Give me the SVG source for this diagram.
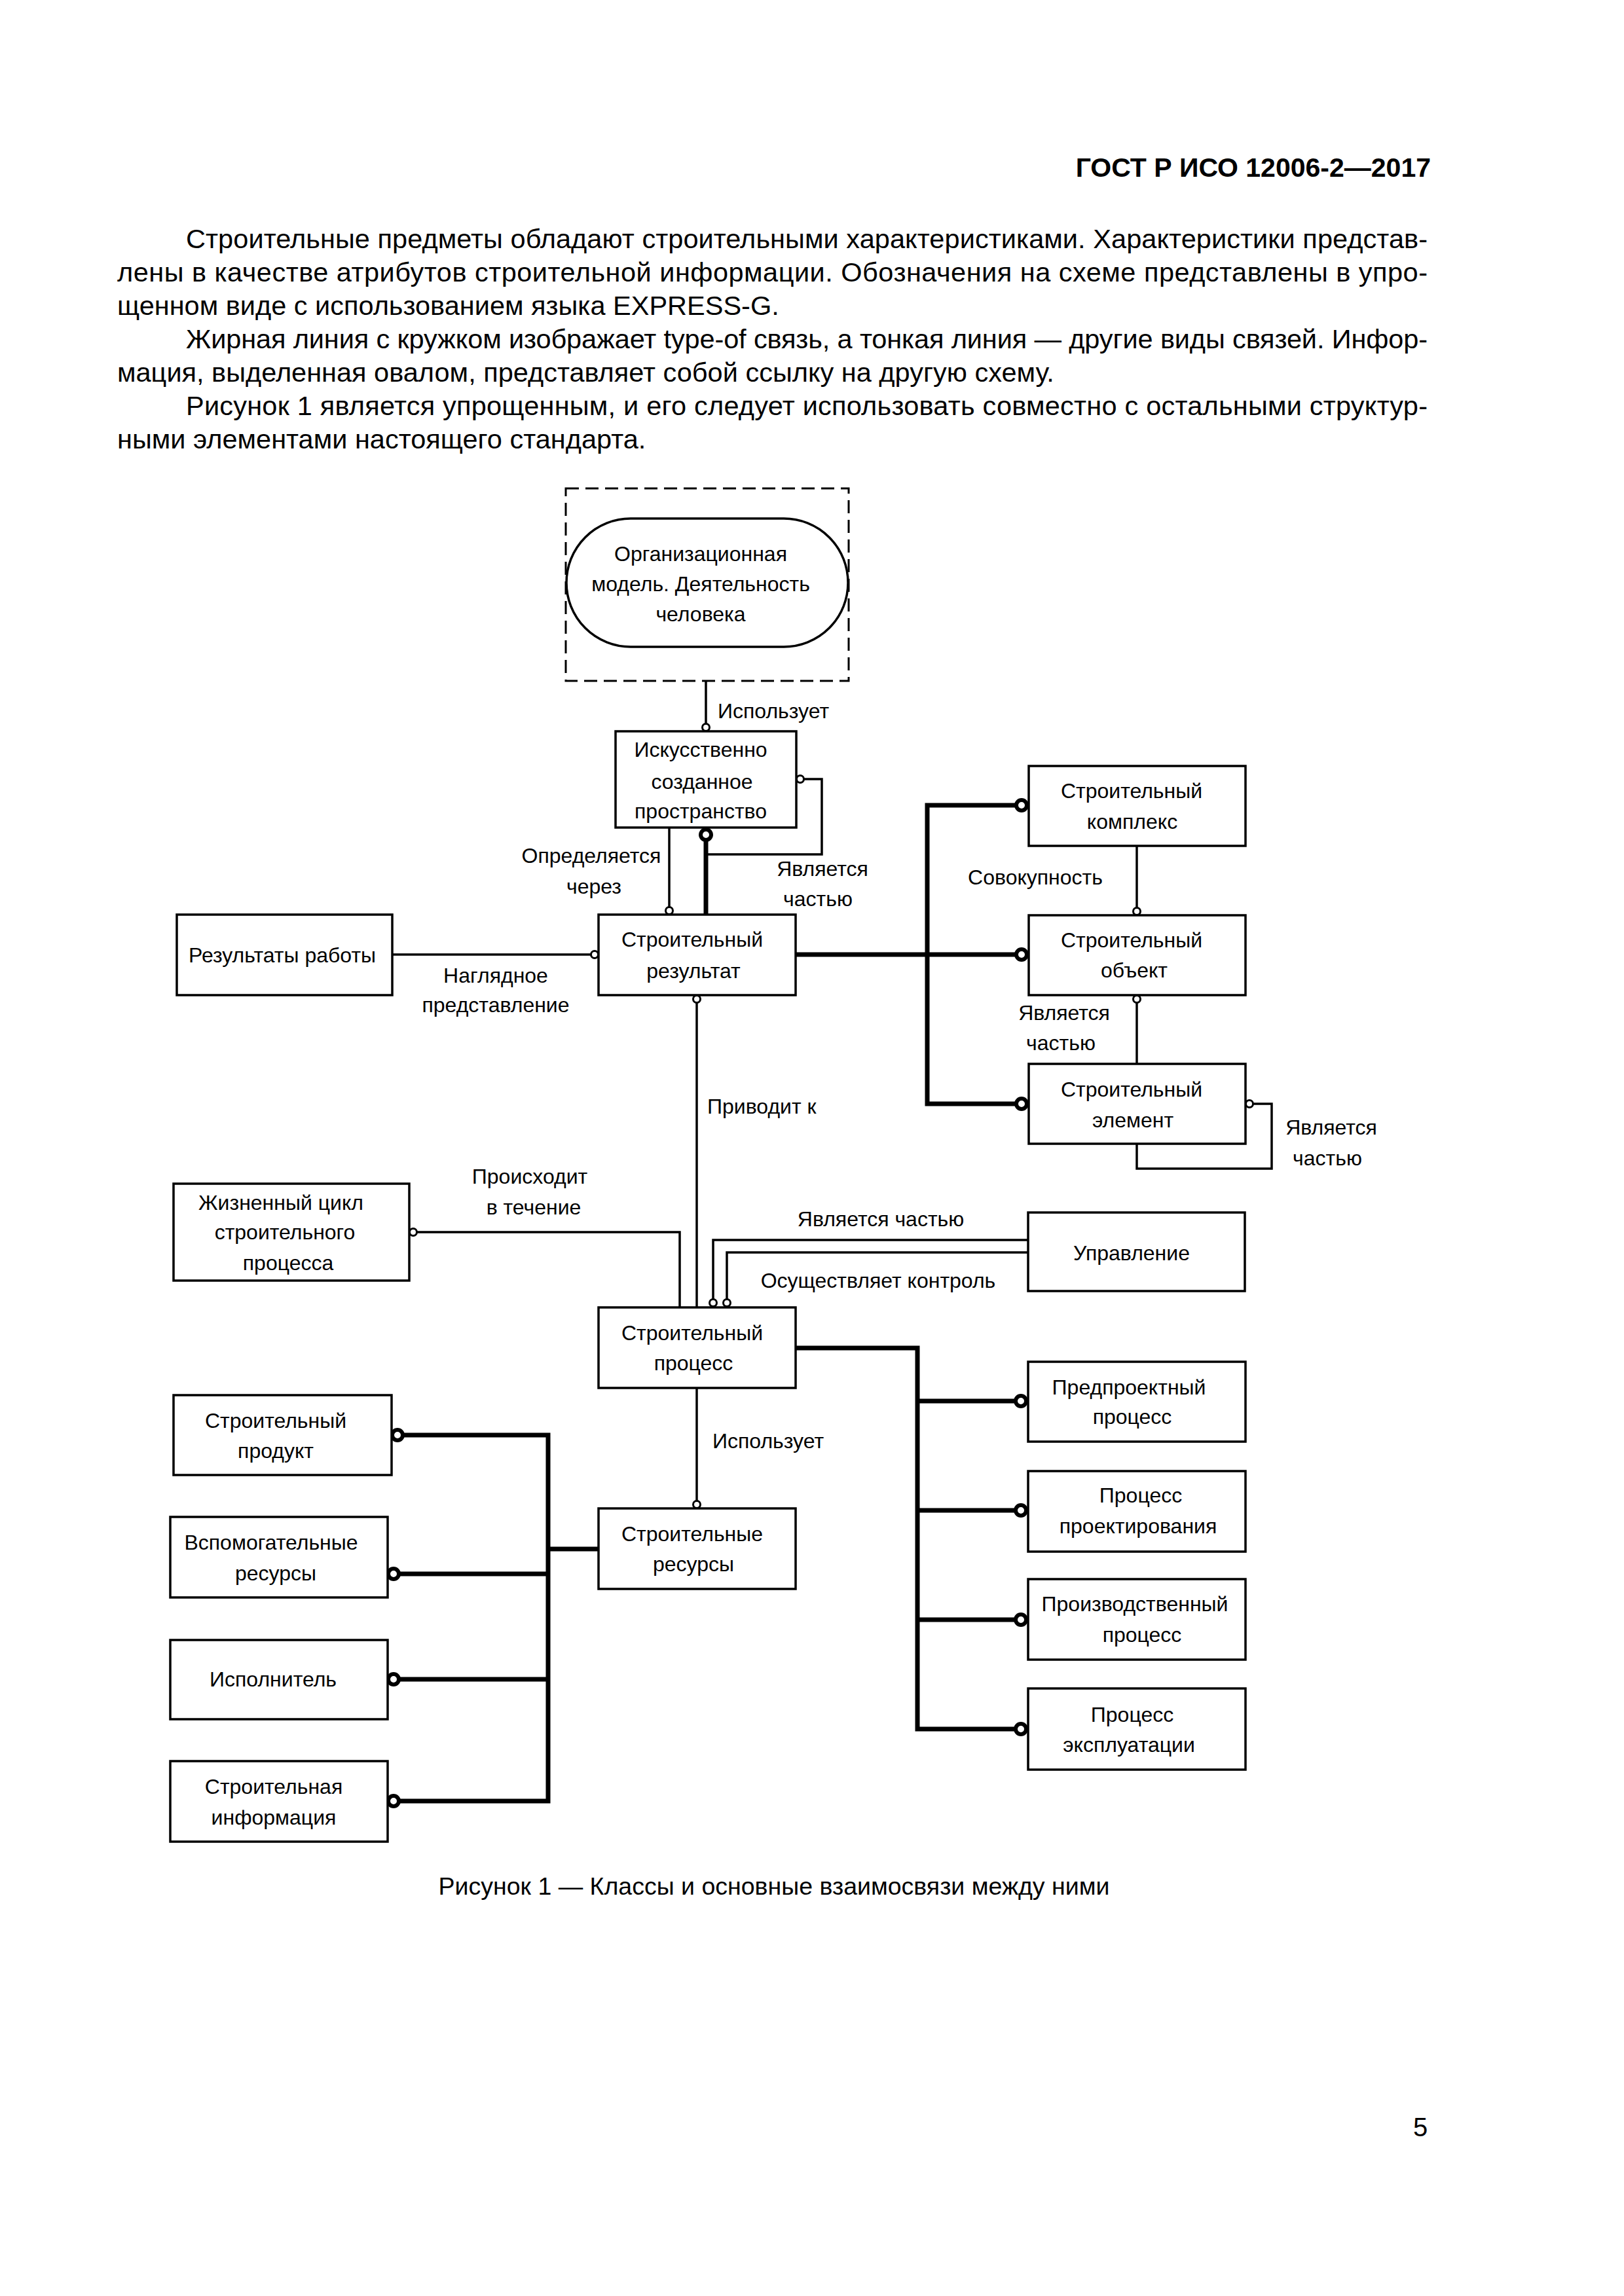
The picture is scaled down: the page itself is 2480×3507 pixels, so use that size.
<svg xmlns="http://www.w3.org/2000/svg" width="2480" height="3507" viewBox="0 0 2480 3507">
<style>
text{font-family:"Liberation Sans",Arial,sans-serif;fill:#000}
.body{font-size:41.5px}
.hdr{font-size:41px;font-weight:bold}
.t{font-size:32px;text-anchor:middle}
.l{font-size:32px}
.lm{font-size:32px;text-anchor:middle}
.box{fill:#fff;stroke:#000;stroke-width:3.5}
.thin{fill:none;stroke:#000;stroke-width:3.5}
.thick{fill:none;stroke:#000;stroke-width:7}
.sc{fill:#fff;stroke:#000;stroke-width:3}
.bc{fill:#fff;stroke:#000;stroke-width:6}
</style>
<rect width="2480" height="3507" fill="#fff"/>
<text class="hdr" x="2185" y="270" text-anchor="end">ГОСТ Р ИСО 12006-2—2017</text>
<g class="body">
<text x="284" y="379" textLength="1896" lengthAdjust="spacing">Строительные предметы обладают строительными характеристиками. Характеристики представ-</text>
<text x="179" y="430" textLength="2001" lengthAdjust="spacing">лены в качестве атрибутов строительной информации. Обозначения на схеме представлены в упро-</text>
<text x="179" y="481">щенном виде с использованием языка EXPRESS-G.</text>
<text x="284" y="532" textLength="1896" lengthAdjust="spacing">Жирная линия с кружком изображает type-of связь, а тонкая линия — другие виды связей. Инфор-</text>
<text x="179" y="583">мация, выделенная овалом, представляет собой ссылку на другую схему.</text>
<text x="284" y="634" textLength="1896" lengthAdjust="spacing">Рисунок 1 является упрощенным, и его следует использовать совместно с остальными структур-</text>
<text x="179" y="685">ными элементами настоящего стандарта.</text>
</g>

<g id="connectors">
<line class="thin" x1="1078" y1="1040" x2="1078" y2="1106"/>
<circle class="sc" cx="1078" cy="1111" r="5.5"/>
<path class="thin" d="M1227 1190 H1255 V1305 H1080"/>
<circle class="sc" cx="1222" cy="1190" r="5.5"/>
<line class="thick" x1="1078" y1="1284" x2="1078" y2="1397"/>
<circle class="bc" cx="1078" cy="1275" r="8"/>
<line class="thin" x1="1022" y1="1264" x2="1022" y2="1386"/>
<circle class="sc" cx="1022" cy="1391" r="5.5"/>
<line class="thin" x1="599" y1="1458" x2="903" y2="1458"/>
<circle class="sc" cx="908" cy="1458" r="5.5"/>
<path class="thick" d="M1215 1458 H1551"/>
<path class="thick" d="M1551 1230 H1416 V1686 H1551"/>
<circle class="bc" cx="1560" cy="1230" r="8"/>
<circle class="bc" cx="1560" cy="1458" r="8"/>
<circle class="bc" cx="1560" cy="1686" r="8"/>
<line class="thin" x1="1736" y1="1292" x2="1736" y2="1387"/>
<circle class="sc" cx="1736" cy="1392" r="5.5"/>
<line class="thin" x1="1736" y1="1531" x2="1736" y2="1625"/>
<circle class="sc" cx="1736" cy="1526" r="5.5"/>
<path class="thin" d="M1913 1686 H1942 V1785 H1736 V1747"/>
<circle class="sc" cx="1908" cy="1686" r="5.5"/>
<line class="thin" x1="1064" y1="1531" x2="1064" y2="1997"/>
<circle class="sc" cx="1064" cy="1526" r="5.5"/>
<path class="thin" d="M636 1882 H1038 V1997"/>
<circle class="sc" cx="631" cy="1882" r="5.5"/>
<path class="thin" d="M1570 1894 H1089 V1985"/>
<circle class="sc" cx="1089" cy="1990" r="5.5"/>
<path class="thin" d="M1570 1913 H1110 V1985"/>
<circle class="sc" cx="1110" cy="1990" r="5.5"/>
<path class="thick" d="M1215 2059 H1401 V2641 H1551"/>
<path class="thick" d="M1401 2140 H1551 M1401 2307 H1551 M1401 2474 H1551"/>
<circle class="bc" cx="1559" cy="2140" r="8"/>
<circle class="bc" cx="1559" cy="2307" r="8"/>
<circle class="bc" cx="1559" cy="2474" r="8"/>
<circle class="bc" cx="1559" cy="2641" r="8"/>
<line class="thin" x1="1064" y1="2120" x2="1064" y2="2293"/>
<circle class="sc" cx="1064" cy="2298" r="5.5"/>
<path class="thick" d="M616 2192 H837 V2751 H610"/>
<path class="thick" d="M610 2404 H837 M610 2565 H837 M837 2366 H914"/>
<circle class="bc" cx="607" cy="2192" r="8"/>
<circle class="bc" cx="601" cy="2404" r="8"/>
<circle class="bc" cx="601" cy="2565" r="8"/>
<circle class="bc" cx="601" cy="2751" r="8"/>
</g>

<g id="labels">
<text class="l" x="1096" y="1097">Использует</text>
<text class="lm" x="903" y="1318">Определяется</text>
<text class="lm" x="907" y="1365">через</text>
<text class="lm" x="1256" y="1338">Является</text>
<text class="lm" x="1249" y="1384">частью</text>
<text class="lm" x="757" y="1501">Наглядное</text>
<text class="lm" x="757" y="1546">представление</text>
<text class="lm" x="1581" y="1351">Совокупность</text>
<text class="lm" x="1625" y="1558">Является</text>
<text class="lm" x="1620" y="1604">частью</text>
<text class="lm" x="2033" y="1733">Является</text>
<text class="lm" x="2027" y="1780">частью</text>
<text class="l" x="1080" y="1701">Приводит к</text>
<text class="lm" x="809" y="1808">Происходит</text>
<text class="lm" x="815" y="1855">в течение</text>
<text class="lm" x="1345" y="1873">Является частью</text>
<text class="lm" x="1341" y="1967">Осуществляет контроль</text>
<text class="l" x="1088" y="2212">Использует</text>
</g>

<g id="n_org">
<rect x="864" y="746" width="432" height="294" fill="none" stroke="#000" stroke-width="3" stroke-dasharray="20 10"/>
<rect x="865" y="792" width="430" height="196" rx="98" ry="98" class="box"/>
<text class="t" x="1070"><tspan x="1070" y="857">Организационная</tspan><tspan x="1070" y="903">модель. Деятельность</tspan><tspan x="1070" y="949">человека</tspan></text>
</g>
<g id="n_isp">
<rect class="box" x="940" y="1117" width="276" height="147"/>
<text class="t"><tspan x="1070" y="1156">Искусственно</tspan><tspan x="1072" y="1205">созданное</tspan><tspan x="1070" y="1250">пространство</tspan></text>
</g>
<g id="n_sr">
<rect class="box" x="914" y="1397" width="301" height="123"/>
<text class="t"><tspan x="1057" y="1446">Строительный</tspan><tspan x="1059" y="1494">результат</tspan></text>
</g>
<g id="n_rr">
<rect class="box" x="270" y="1397" width="329" height="123"/>
<text class="t" x="431" y="1470">Результаты работы</text>
</g>
<g id="n_sk">
<rect class="box" x="1571" y="1170" width="331" height="122"/>
<text class="t"><tspan x="1728" y="1219">Строительный</tspan><tspan x="1729" y="1266">комплекс</tspan></text>
</g>
<g id="n_so">
<rect class="box" x="1571" y="1398" width="331" height="122"/>
<text class="t"><tspan x="1728" y="1447">Строительный</tspan><tspan x="1732" y="1493">объект</tspan></text>
</g>
<g id="n_se">
<rect class="box" x="1571" y="1625" width="331" height="122"/>
<text class="t"><tspan x="1728" y="1675">Строительный</tspan><tspan x="1730" y="1722">элемент</tspan></text>
</g>
<g id="n_zc">
<rect class="box" x="265" y="1808" width="360" height="148"/>
<text class="t"><tspan x="429" y="1848">Жизненный цикл</tspan><tspan x="435" y="1893">строительного</tspan><tspan x="440" y="1940">процесса</tspan></text>
</g>
<g id="n_upr">
<rect class="box" x="1570" y="1852" width="331" height="120"/>
<text class="t" x="1728" y="1925">Управление</text>
</g>
<g id="n_sp">
<rect class="box" x="914" y="1997" width="301" height="123"/>
<text class="t"><tspan x="1057" y="2047">Строительный</tspan><tspan x="1059" y="2093">процесс</tspan></text>
</g>
<g id="n_pp">
<rect class="box" x="1570" y="2080" width="332" height="122"/>
<text class="t"><tspan x="1724" y="2130">Предпроектный</tspan><tspan x="1729" y="2175">процесс</tspan></text>
</g>
<g id="n_proj">
<rect class="box" x="1570" y="2247" width="332" height="123"/>
<text class="t"><tspan x="1742" y="2295">Процесс</tspan><tspan x="1738" y="2342">проектирования</tspan></text>
</g>
<g id="n_prod">
<rect class="box" x="1570" y="2412" width="332" height="123"/>
<text class="t"><tspan x="1733" y="2461">Производственный</tspan><tspan x="1744" y="2508">процесс</tspan></text>
</g>
<g id="n_expl">
<rect class="box" x="1570" y="2579" width="332" height="124"/>
<text class="t"><tspan x="1729" y="2630">Процесс</tspan><tspan x="1724" y="2676">эксплуатации</tspan></text>
</g>
<g id="n_sprod">
<rect class="box" x="265" y="2131" width="333" height="122"/>
<text class="t"><tspan x="421" y="2181">Строительный</tspan><tspan x="421" y="2227">продукт</tspan></text>
</g>
<g id="n_vsp">
<rect class="box" x="260" y="2317" width="332" height="123"/>
<text class="t"><tspan x="414" y="2367">Вспомогательные</tspan><tspan x="421" y="2414">ресурсы</tspan></text>
</g>
<g id="n_ispoln">
<rect class="box" x="260" y="2505" width="332" height="121"/>
<text class="t" x="417" y="2576">Исполнитель</text>
</g>
<g id="n_sinf">
<rect class="box" x="260" y="2690" width="332" height="123"/>
<text class="t"><tspan x="418" y="2740">Строительная</tspan><tspan x="418" y="2787">информация</tspan></text>
</g>
<g id="n_sres">
<rect class="box" x="914" y="2304" width="301" height="123"/>
<text class="t"><tspan x="1057" y="2354">Строительные</tspan><tspan x="1059" y="2400">ресурсы</tspan></text>
</g>

<text x="1182" y="2894" font-size="37.5" text-anchor="middle">Рисунок 1 — Классы и основные взаимосвязи между ними</text>
<text x="2169" y="3263" font-size="40" text-anchor="middle">5</text>
</svg>
